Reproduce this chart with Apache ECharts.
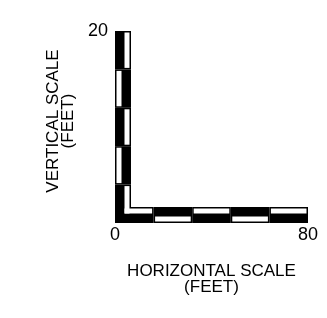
<!DOCTYPE html>
<html>
<head>
<meta charset="utf-8">
<script src="https://cdn.jsdelivr.net/npm/echarts@6/dist/echarts.min.js"></script>
<style>
html,body{margin:0;padding:0;background:#fff;}
#chart{width:327px;height:318px;}
</style>
</head>
<body>
<div id="chart"></div>
<script>
// Scale bar divisions (feet)
const horizontalTicks = [0, 16, 32, 48, 64, 80];
const verticalTicks = [0, 4, 8, 12, 16, 20];
// Tick labels shown
const horizontalLabels = [0, 80];
const verticalLabels = [20];
const horizontalTitle = 'HORIZONTAL SCALE\n(FEET)';
const verticalTitle = 'VERTICAL SCALE\n(FEET)';

// segments: [direction (0 vertical, 1 horizontal), start, end, index]
const segments = [];
for (let i = 0; i < verticalTicks.length - 1; i++) segments.push([0, verticalTicks[i], verticalTicks[i + 1], i]);
for (let j = 0; j < horizontalTicks.length - 1; j++) segments.push([1, horizontalTicks[j], horizontalTicks[j + 1], j]);

const BAR = 16, HALF = 8, INSET = 1.5;

function makeRender(layer) {
  return function (params, api) {
    const dir = api.value(0), s = api.value(1), e = api.value(2), i = api.value(3);
    const o = api.coord([0, 0]);
    if (dir === 0) {
      const top = api.coord([0, e])[1];
      const bot = api.coord([0, s])[1];
      if (layer === 'black') {
        return { type: 'rect', shape: { x: o[0], y: top, width: BAR, height: bot - top }, style: { fill: '#000' } };
      }
      const col = i % 2 === 0 ? 1 : 0;
      const wx = o[0] + col * HALF + INSET;
      const wy = top + INSET;
      const wb = (i === 0 && col === 1) ? (o[1] - HALF - INSET) : (bot - INSET);
      return { type: 'rect', shape: { x: wx, y: wy, width: HALF - 2 * INSET, height: wb - wy }, style: { fill: '#fff' } };
    } else {
      const left = api.coord([s, 0])[0];
      const right = api.coord([e, 0])[0];
      if (layer === 'black') {
        return { type: 'rect', shape: { x: left, y: o[1] - BAR, width: right - left, height: BAR }, style: { fill: '#000' } };
      }
      const row = i % 2 === 0 ? 0 : 1;
      const wy = o[1] - BAR + row * HALF + INSET;
      const wx = ((i === 0 && row === 0) ? o[0] + HALF : left) + INSET;
      return { type: 'rect', shape: { x: wx, y: wy, width: right - INSET - wx, height: HALF - 2 * INSET }, style: { fill: '#fff' } };
    }
  };
}

const chart = echarts.init(document.getElementById('chart'), null, { renderer: 'canvas' });
const font = 'Liberation Sans, Arial, sans-serif';
chart.setOption({
  animation: false,
  backgroundColor: '#fff',
  grid: { left: 115, right: 19, top: 31, bottom: 95, containLabel: false },
  xAxis: {
    type: 'value', min: 0, max: 80, interval: 80,
    axisLine: { show: false }, axisTick: { show: false }, splitLine: { show: false },
    axisLabel: {
      color: '#000', fontSize: 18, fontFamily: font, margin: 3,
      formatter: v => horizontalLabels.includes(v) ? String(v) : ''
    },
    name: horizontalTitle, nameLocation: 'middle', nameGap: 40,
    nameTextStyle: { color: '#000', fontSize: 17, fontFamily: font, lineHeight: 16.5 }
  },
  yAxis: {
    type: 'value', min: 0, max: 20, interval: 20,
    axisLine: { show: false }, axisTick: { show: false }, splitLine: { show: false },
    axisLabel: {
      color: '#000', fontSize: 18, fontFamily: font, margin: 7,
      formatter: v => verticalLabels.includes(v) ? String(v) : ''
    }
  },
  graphic: [{
    type: 'text', x: 60.6, y: 121, rotation: Math.PI / 2,
    style: { text: verticalTitle, fill: '#000', font: '17px ' + font, textAlign: 'center', textVerticalAlign: 'middle', lineHeight: 15 }
  }],
  series: [
    { type: 'custom', z: 2, renderItem: makeRender('black'), data: segments, silent: true },
    { type: 'custom', z: 3, renderItem: makeRender('white'), data: segments, silent: true }
  ]
});
</script>
</body>
</html>
